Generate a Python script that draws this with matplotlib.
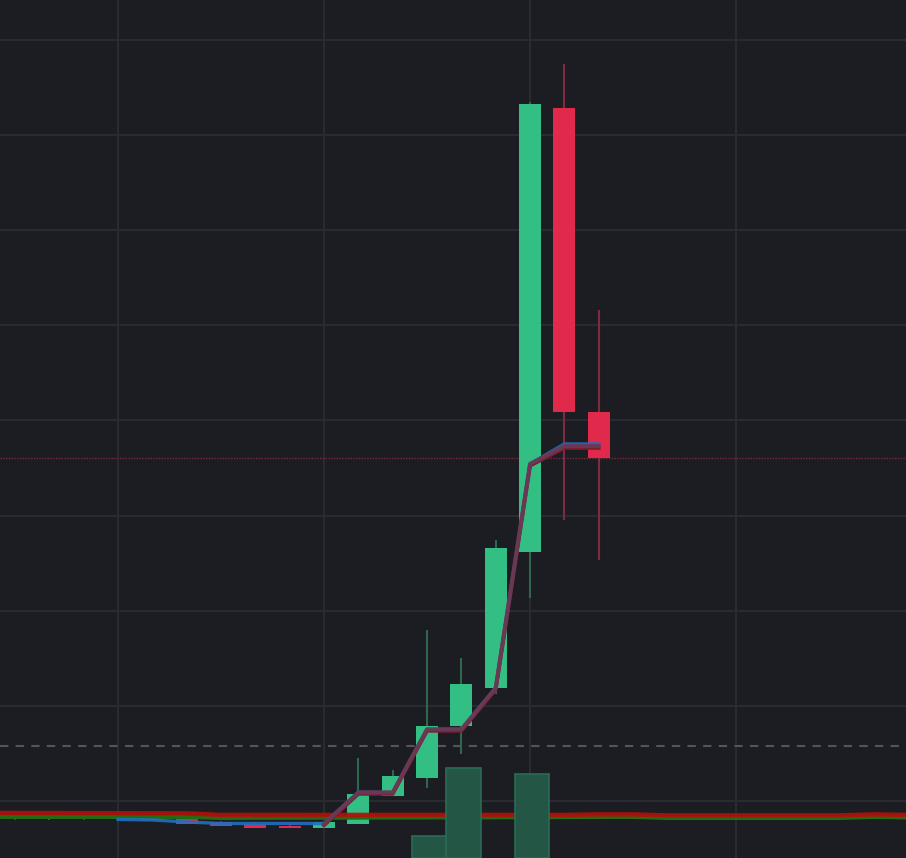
import numpy as np
import matplotlib
matplotlib.use("Agg")
import matplotlib.pyplot as plt

#---K線資料 (open, high, low, close)-----
opens  = [0.816, 0.806, 0.816, 0.816, 0.812, 0.811, 0.779, 0.758, 0.737, 0.716, 0.758, 1.053, 1.242, 1.788, 2.188, 3.618, 8.285, 5.089]
highs  = [0.820, 0.820, 0.820, 0.820, 0.815, 0.815, 0.785, 0.779, 0.758, 0.779, 1.452, 1.326, 2.798, 2.503, 3.744, 8.348, 8.748, 6.162]
lows   = [0.800, 0.800, 0.800, 0.800, 0.800, 0.758, 0.737, 0.716, 0.716, 0.716, 0.758, 1.053, 1.137, 1.494, 2.125, 3.134, 3.954, 3.534]
closes = [0.806, 0.816, 0.806, 0.806, 0.800, 0.758, 0.737, 0.716, 0.716, 0.779, 1.074, 1.263, 1.788, 2.230, 3.660, 8.327, 5.089, 4.606]
volume = [0, 0, 0, 0, 0, 0, 0, 0, 0, 0, 0, 0, 10.3, 42, 0, 39, 0, 0]

#---均線資料-----
blue_x = list(range(3, 18))
blue_y = [0.806, 0.800, 0.779, 0.763, 0.763, 0.763, 0.763, 1.090, 1.090, 1.753, 1.753, 2.188, 4.543, 4.753, 4.753]
purple_x = list(range(9, 18))
purple_y = [0.758, 1.090, 1.090, 1.753, 1.753, 2.188, 4.543, 4.732, 4.732]
dred_y = [0.745, 1.075, 1.075, 1.738, 1.738, 2.173, 4.525, 4.712, 4.712]
red_x = [-0.45, 5, 6, 16, 17, 18, 19, 24, 25, 26]
red_y = [0.874, 0.869, 0.853, 0.853, 0.858, 0.858, 0.848, 0.848, 0.858, 0.853]
green_x = [-0.45, 5, 6, 18, 19, 24, 25, 26]
green_y = [0.832, 0.832, 0.821, 0.832, 0.821, 0.821, 0.832, 0.827]
dash_level = 1.578

BG = "#1c1d22"
GRID = "#2a2b31"
UP = "#33bf84"
DOWN = "#e0294b"
UP_WICK = "#2f6650"
DOWN_WICK = "#7c2b40"

fig = plt.figure(figsize=(9.06, 8.58), dpi=100)
fig.patch.set_facecolor(BG)
ax = fig.add_axes([0, 0, 1, 1])
ax.set_facecolor(BG)
ax.set_xlim(-0.437, 25.95)
ax.set_ylim(0.40, 9.42)
ax.set_xticks([3, 9, 15, 21])
ax.set_yticks(range(1, 10))
ax.grid(True, color=GRID, lw=1.5)
ax.set_axisbelow(True)
ax.tick_params(length=0, labelbottom=False, labelleft=False)
for s in ax.spines.values():
    s.set_visible(False)

#---成交量-----
axv = ax.twinx()
axv.set_ylim(0, 400)
axv.set_axis_off()
vx = [i for i in range(len(volume)) if volume[i] > 0]
vy = [volume[i] for i in vx]
axv.bar(np.array(vx) + 0.06, vy, width=1.0, color="#235645", edgecolor="#2b6b55", lw=1.2, zorder=1)

#---K線-----
for i in range(len(closes)):
    up = closes[i] >= opens[i]
    ax.vlines(i, lows[i], highs[i], color=UP_WICK if up else DOWN_WICK, lw=1.5, zorder=3)
    lo = min(opens[i], closes[i])
    h = max(abs(closes[i] - opens[i]), 0.012)
    ax.bar(i, h, bottom=lo, width=0.64, color=UP if up else DOWN, lw=0, zorder=4)

#---水平線-----
ax.axhline(dash_level, color="#52555d", lw=1.5, ls=(0, (4, 3.5)), zorder=2)
ax.axhline(closes[-1], color="#7a2a38", lw=1.0, ls=(0, (1, 1)), zorder=2)

#---均線-----
ax.plot(green_x, green_y, color="#226b12", lw=3.0, zorder=5, solid_capstyle="butt")
ax.plot(red_x, red_y, color="#b0100c", lw=3.2, alpha=0.92, zorder=6, solid_capstyle="butt")
ax.plot(blue_x, blue_y, color="#1f6fc0", lw=2.4, alpha=0.9, zorder=7)
ax.plot(purple_x, dred_y, color="#7a1f2e", lw=2.8, zorder=8)
ax.plot(purple_x, purple_y, color="#693a58", lw=2.9, alpha=0.95, zorder=9)

fig.savefig("out.png", dpi=100, facecolor=BG)
